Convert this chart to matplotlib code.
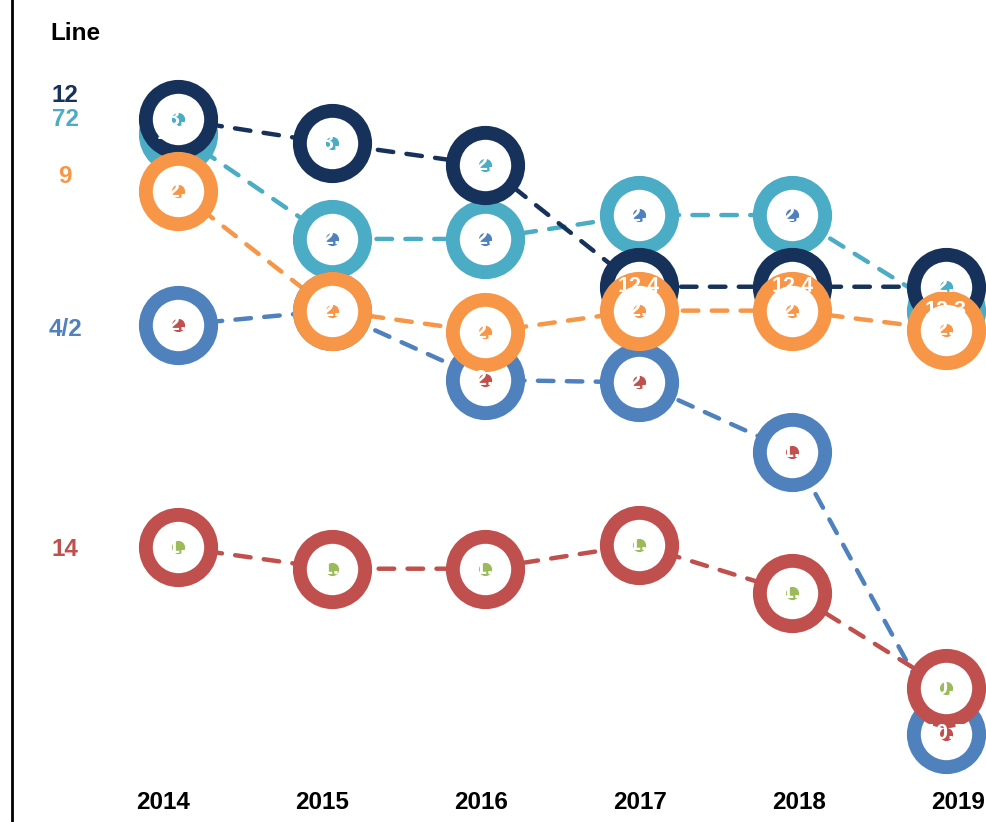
import os
import numpy as np
import matplotlib.pyplot as plt
import matplotlib.transforms as mtransforms
from matplotlib import font_manager as fm

# Arial-like bold face (avoid the Narrow variant)
bold_file = None
for f in fm.findSystemFonts():
    if os.path.basename(f) == 'LiberationSans-Bold.ttf':
        bold_file = f
fp = fm.FontProperties(fname=bold_file) if bold_file else fm.FontProperties(family='DejaVu Sans', weight='bold')

# Data
years = [2014, 2015, 2016, 2017, 2018, 2019]
line_names = ['72', '12', '4/2', '9', '14']   # drawing order (back to front)
v72 = [13.04, 12.6, 12.6, 12.7, 12.7, 12.3]
v12 = [13.1, 13.0, 12.91, 12.4, 12.4, 12.4]
v42 = [12.24, 12.3, 12.01, 12.0, 11.71, 10.53]
v9 = [12.8, 12.3, 12.21, 12.3, 12.3, 12.22]
v14 = [11.31, 11.22, 11.22, 11.32, 11.12, 10.72]
values = [v72, v12, v42, v9, v14]

# legend label heights (data units)
legend_y = {'12': 13.2, '72': 13.1, '9': 12.86, '4/2': 12.22, '14': 11.3}

# Colours
col = {'12': '#17325a', '72': '#4bacc6', '9': '#f79646',
       '4/2': '#4f81bd', '14': '#c0504d'}
dot_col = {'12': '#4bacc6', '72': '#4f81bd', '9': '#f79646',
           '4/2': '#c0504d', '14': '#9bbb59'}

fig = plt.figure(figsize=(9.86, 8.22), dpi=100)
ax = fig.add_axes([12/986, 0, 974/986, 1])
ax.set_xlim(2012.92, 2019.26)
ax.set_ylim(10.16, 13.60)
for s in ['top', 'right', 'bottom']:
    ax.spines[s].set_visible(False)
ax.spines['left'].set_linewidth(2)
ax.set_xticks([]); ax.set_yticks([])

# dashed lines first
for name, v in zip(line_names, values):
    ax.plot(years, v, ls=(0, (3.5, 3)), lw=3.2, color=col[name],
            dash_capstyle='round', zorder=1)

# rings
z = 2
for name, v in zip(line_names, values):
    ax.plot(years, v, ls='none', marker='o', ms=47, mfc='white',
            mec=col[name], mew=10, zorder=z)
    ax.plot(years, v, ls='none', marker='o', ms=8.5, color=dot_col[name],
            zorder=z + 0.5)
    z += 1

# value labels
for name, v in zip(line_names, values):
    for x, y in zip(years, v):
        ax.text(x, y, f'{y:.1f}', color='white', fontproperties=fp, fontsize=15.5,
                ha='center', va='center', zorder=20)

# line labels on the left
ax.text(2013.17, 13.46, 'Line', fontproperties=fp, fontsize=17.5,
        color='black', ha='left', va='center')
for name, y in legend_y.items():
    ax.text(2013.265, y, name, fontproperties=fp, fontsize=17.5,
            color=col[name], ha='center', va='center')

# year labels (own band)
ax2 = fig.add_axes([163/986, 0, (958-163)/986, 1])
ax2.set_xlim(2014, 2019)
ax2.axis('off')
trans = mtransforms.blended_transform_factory(ax2.transData, ax2.transAxes)
for yr in years:
    ax2.text(yr, 0.024, str(yr), transform=trans, fontproperties=fp,
             fontsize=17.5, ha='center', va='center')

fig.savefig('out.png', dpi=100)
